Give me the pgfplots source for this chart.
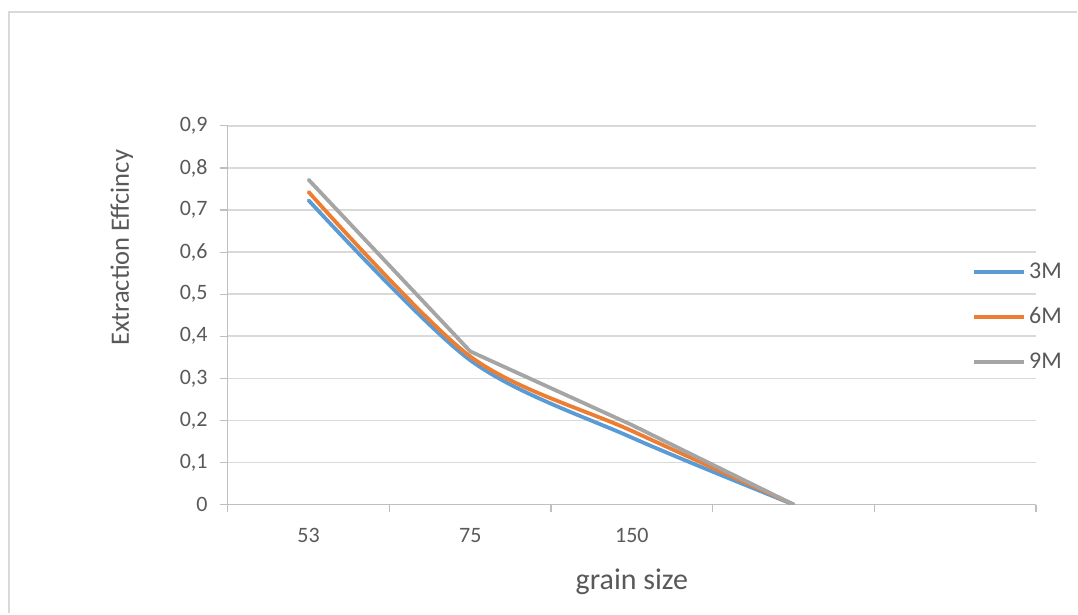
\documentclass[border=0pt]{standalone}
\usepackage{fontspec}
\setmainfont{Carlito}
\usepackage{pgfplots}
\pgfplotsset{compat=1.18}
\definecolor{cblue}{HTML}{5B9BD5}
\definecolor{corange}{HTML}{ED7D31}
\definecolor{cgray}{HTML}{A5A5A5}
\definecolor{gridc}{HTML}{D9D9D9}
\definecolor{axc}{HTML}{BFBFBF}
\definecolor{txt}{HTML}{595959}
\begin{document}
\begin{tikzpicture}[x=1pt,y=1pt]
\begin{axis}[
  at={(0,0)}, anchor=south west,
  scale only axis, width=809pt, height=379pt,
  xmin=0.5, xmax=5.5, ymin=0, ymax=0.9,
  axis x line*=bottom, axis y line*=left,
  axis line style={axc, line width=1.2pt, -},
  xtick={1,2,3,4,5}, xticklabels={53,75,150,{},{}},
  minor xtick={0.5,1.5,...,5.5},
  ytick={0,0.1,...,0.9},
  /pgf/number format/fixed, /pgf/number format/use comma, /pgf/number format/precision=1,
  /pgf/number format/assume math mode=true,
  tick align=outside,
  x tick style={draw=none},
  minor x tick style={draw=axc, line width=1.2pt},
  minor tick length=7pt,
  y tick style={draw=axc, line width=1.2pt},
  major tick length=8pt,
  ymajorgrids, grid style={gridc, line width=1.5pt},
  ticklabel style={font=\fontsize{22}{26}\selectfont, text=txt},
  xticklabel style={anchor=center, yshift=-23pt, inner sep=0pt},
  yticklabel style={anchor=east, inner sep=0pt, xshift=-12pt},
  xlabel={grain size},
  xlabel style={font=\fontsize{30}{36}\selectfont, text=txt, at={(axis description cs:0.5,-0.205)}, anchor=center},
  ylabel={Extraction Effcincy},
  ylabel style={font=\fontsize{26.5}{32}\selectfont, text=txt, at={(axis description cs:-0.131,0.678)}, anchor=center, rotate=0},
  legend style={at={(axis description cs:0.921,0.496)}, anchor=west, draw=none, fill=none, inner sep=0pt,
    font=\fontsize{24}{28}\selectfont, text=txt, row sep=25pt,
    nodes={inner xsep=3pt, inner ysep=0pt, text height=17pt, text depth=3pt}},
  legend cell align=left,
  legend image code/.code={\draw[#1, line cap=butt] (0pt,0pt) -- (50pt,0pt);},
  every axis plot/.append style={line width=3.8pt, line join=round, line cap=round},
]
\addplot[cblue, smooth, tension=0.5] coordinates {(1,0.723) (2,0.343) (3,0.159) (4,0)};
\addlegendentry{3M}
\addplot[corange, smooth, tension=0.5] coordinates {(1,0.743) (2,0.352) (3,0.175) (4,0)};
\addlegendentry{6M}
\addplot[cgray] coordinates {(1,0.772) (2,0.364) (3,0.189) (4,0)};
\addlegendentry{9M}
\end{axis}
\draw[gridc,line width=2pt] (-219,-109) -- (-219,493) -- (850,493);
\useasboundingbox (-228,-109) rectangle (850,505);
\end{tikzpicture}
\end{document}
